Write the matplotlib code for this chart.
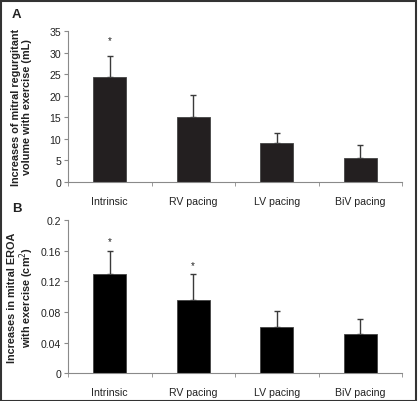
import matplotlib
matplotlib.use("Agg")
import matplotlib.pyplot as plt
from matplotlib.patches import Rectangle
import numpy as np

plt.rcParams['font.family'] = ['Liberation Sans', 'DejaVu Sans']

categories = ["Intrinsic", "RV pacing", "LV pacing", "BiV pacing"]
rv_means = [24.3, 15.0, 8.9, 5.6]
rv_err = [4.9, 5.2, 2.5, 3.0]
rv_stars = [1, 0, 0, 0]
eroa_means = [0.130, 0.095, 0.061, 0.051]
eroa_err = [0.030, 0.034, 0.020, 0.020]
eroa_stars = [1, 1, 0, 0]

W, H = 418, 402
fig = plt.figure(figsize=(W / 100, H / 100), dpi=100)

axcol = '#8a8a8a'
txtcol = '#222222'

def setup(ax, means, errs, stars, ylim, yticks, yticklabels, ylabel, barcol, star_off):
    x = np.arange(len(categories))
    ax.bar(x, means, width=0.4, color=barcol, edgecolor='#444444', linewidth=0.6, zorder=2)
    ax.errorbar(x, means, yerr=[np.zeros(len(errs)), errs], fmt='none',
                ecolor='#3a3a3a', elinewidth=1.0, capsize=2.5, capthick=1.0, zorder=1)
    for xi, m, e, s in zip(x, means, errs, stars):
        if s:
            ax.text(xi, m + e + star_off, '*', ha='center', va='center', fontsize=7, color=txtcol)
    ax.set_xlim(-0.5, len(categories) - 0.5)
    ax.set_ylim(*ylim)
    ax.set_yticks(yticks)
    ax.set_yticklabels(yticklabels)
    ax.set_xticks(x)
    ax.set_xticklabels(categories)
    ax.set_xticks(np.arange(-0.5, len(categories)), minor=True)
    ax.tick_params(axis='x', which='major', length=0, pad=10, labelsize=7.6, labelcolor=txtcol)
    ax.tick_params(axis='x', which='minor', length=3, color=axcol, direction='out')
    ax.tick_params(axis='y', length=3, color=axcol, direction='out', labelsize=7.6,
                   labelcolor=txtcol, pad=2)
    for sp in ['top', 'right']:
        ax.spines[sp].set_visible(False)
    for sp in ['left', 'bottom']:
        ax.spines[sp].set_color(axcol)
        ax.spines[sp].set_linewidth(0.8)
    pos = ax.get_position()
    fig.text(21.5 / W, (pos.y0 + pos.y1) / 2, ylabel, rotation=90, ha='center', va='center',
             fontsize=7.8, fontweight='bold', color=txtcol, linespacing=1.05,
             multialignment='center')

axA = fig.add_axes([68 / W, 1 - 182.7 / H, 334 / W, 150.7 / H])
setup(axA, rv_means, rv_err, rv_stars, (0, 35), np.arange(0, 36, 5),
      [str(v) for v in range(0, 36, 5)],
      "Increases of mitral regurgitant\nvolume with exercise (mL)", '#231f20', 3.8)

axB = fig.add_axes([68 / W, 1 - 374.3 / H, 334 / W, 153.3 / H])
setup(axB, eroa_means, eroa_err, eroa_stars, (0, 0.2), [0, 0.04, 0.08, 0.12, 0.16, 0.2],
      ['0', '0.04', '0.08', '0.12', '0.16', '0.2'],
      "Increases in mitral EROA\nwith exercise (cm$^{2}$)", '#000000', 0.012)

fig.text(12 / W, 1 - 15 / H, 'A', fontsize=9.5, fontweight='bold', color=txtcol, va='center')
fig.text(12 / W, 1 - 209 / H, 'B', fontsize=9.5, fontweight='bold', color=txtcol, va='center')

fig.add_artist(Rectangle((0.5 / W, 0.5 / H), 1 - 2.5 / W, 1 - 2.5 / H, transform=fig.transFigure,
                         fill=False, edgecolor='#333333', linewidth=1.5))

fig.savefig('out.png', dpi=100)
